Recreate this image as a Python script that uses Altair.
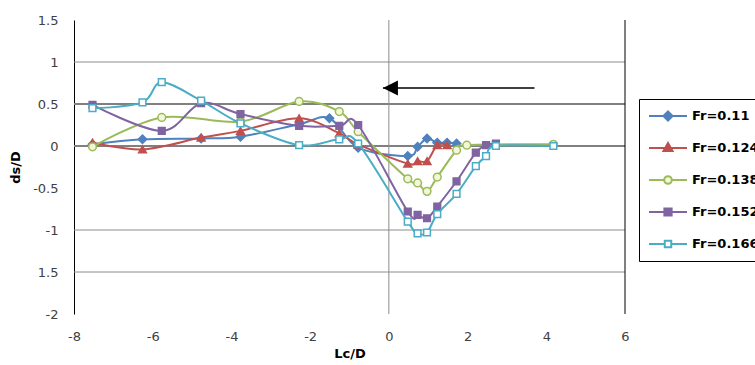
import altair as alt
import pandas as pd

# ---- series data -------------------------------------------------------
fr_labels = ["Fr=0.11", "Fr=0.124", "Fr=0.138", "Fr=0.152", "Fr=0.166"]

x_fr011 = [-7.53, -6.26, -4.77, -3.77, -2.28, -1.51, -0.78, 0.48, 0.73, 0.97, 1.23, 1.48, 1.72]
y_fr011 = [0.02, 0.08, 0.09, 0.11, 0.26, 0.33, -0.02, -0.12, -0.01, 0.09, 0.04, 0.04, 0.03]

x_fr0124 = [-7.53, -6.26, -4.77, -3.77, -2.28, -1.26, -0.78, 0.48, 0.73, 0.97, 1.23, 1.48]
y_fr0124 = [0.04, -0.04, 0.10, 0.18, 0.33, 0.15, 0.02, -0.21, -0.18, -0.18, 0.01, 0.01]

x_fr0138 = [-7.53, -5.77, -3.77, -2.28, -1.26, -0.78, 0.48, 0.73, 0.97, 1.23, 1.72, 1.98, 4.18]
y_fr0138 = [-0.01, 0.34, 0.29, 0.53, 0.41, 0.17, -0.39, -0.44, -0.54, -0.37, -0.05, 0.01, 0.02]

x_fr0152 = [-7.53, -5.77, -4.77, -3.77, -2.28, -1.26, -0.78, 0.48, 0.73, 0.97, 1.23, 1.72, 2.21, 2.47, 2.72]
y_fr0152 = [0.49, 0.18, 0.51, 0.38, 0.24, 0.24, 0.25, -0.78, -0.82, -0.86, -0.72, -0.42, -0.08, 0.01, 0.03]

x_fr0166 = [-7.53, -6.26, -5.77, -4.77, -3.77, -2.28, -1.26, -0.78, 0.48, 0.73, 0.97, 1.23, 1.72, 2.21, 2.47, 2.72, 4.18]
y_fr0166 = [0.45, 0.52, 0.76, 0.54, 0.27, 0.01, 0.08, 0.03, -0.90, -1.04, -1.03, -0.81, -0.57, -0.24, -0.12, 0.00, 0.00]

x_ticks = [-8, -6, -4, -2, 0, 2, 4, 6]
y_ticks = [1.5, 1, 0.5, 0, -0.5, -1, -1.5, -2]
grid_thick = [0.5, 0]
grid_thin = [1, -1, -1.5]

# flow-direction arrow: tail and tip along x, at a fixed height
arrow_x = [3.7, -0.15]
arrow_y = 0.69

# ---- styling -----------------------------------------------------------
colors = ["#4F81BD", "#C0504D", "#9BBB59", "#8064A2", "#4BACC6"]
fills = ["#4F81BD", "#C0504D", "#F4F6DA", "#8064A2", "#FFFFFF"]
shapes = ["diamond", "triangle-up", "circle", "square", "square"]
sizes = [70, 60, 60, 45, 45]

# legend symbols: a short line with the series marker in the middle
legend_paths = [
    "M-1,0H1M0,-0.24L0.24,0L0,0.24L-0.24,0Z",
    "M-1,0H1M0,-0.26L0.24,0.16L-0.24,0.16Z",
    "M-1,0H-0.2M0.2,0H1M0.2,0A0.2,0.2 0 1,1 -0.2,0A0.2,0.2 0 1,1 0.2,0Z",
    "M-1,0H1M-0.19,-0.19H0.19V0.19H-0.19Z",
    "M-1,0H-0.17M0.17,0H1M-0.17,-0.17H0.17V0.17H-0.17Z",
]

FONT = "DejaVu Sans"
W, H = 551, 294

rows = []
for label, xs, ys in zip(fr_labels,
                         [x_fr011, x_fr0124, x_fr0138, x_fr0152, x_fr0166],
                         [y_fr011, y_fr0124, y_fr0138, y_fr0152, y_fr0166]):
    for i, (a, b) in enumerate(zip(xs, ys)):
        rows.append({"series": label, "x": a, "y": b, "order": i})
df = pd.DataFrame(rows)

x_scale = alt.Scale(domain=[-8, 6], nice=False, zero=False)
y_scale = alt.Scale(domain=[-2, 1.5], nice=False, zero=False)

x_axis = alt.Axis(
    values=x_ticks, labelExpr="'' + datum.value", grid=False, domain=False,
    ticks=False, labelPadding=16, labelFlush=False, labelOverlap=False,
    labelFont=FONT, labelFontSize=13, labelColor="#404040",
    title="Lc/D", titleFont=FONT, titleFontSize=13, titleFontWeight="bold",
    titleColor="black", titlePadding=4,
)
y_axis = alt.Axis(
    values=y_ticks,
    labelExpr="datum.value == -1.5 ? '1.5' : '' + datum.value",
    grid=False, domain=True, domainColor="black", domainWidth=1,
    ticks=False, labelPadding=16, labelFlush=False, labelOverlap=False,
    labelFont=FONT, labelFontSize=13, labelColor="#404040",
    title="ds/D", titleFont=FONT, titleFontSize=13, titleFontWeight="bold",
    titleColor="black", titlePadding=10,
)


def X(field):
    return alt.X(field, scale=x_scale, axis=x_axis)


def Y(field):
    return alt.Y(field, scale=y_scale, axis=y_axis)


# horizontal grid lines
thin_grid = alt.Chart(pd.DataFrame({"g": grid_thin, "a": -8, "b": 6})).mark_rule(
    color="#8C8C8C", strokeWidth=1
).encode(y=Y("g:Q"), x=X("a:Q"), x2="b:Q")
thick_grid = alt.Chart(pd.DataFrame({"g": grid_thick, "a": -8, "b": 6})).mark_rule(
    color="#808080", strokeWidth=2
).encode(y=Y("g:Q"), x=X("a:Q"), x2="b:Q")

# vertical reference at x = 0 and the right frame line
zero_line = alt.Chart(pd.DataFrame({"v": [0], "lo": -2, "hi": 1.5})).mark_rule(
    color="#8C8C8C", strokeWidth=1
).encode(x=X("v:Q"), y=Y("lo:Q"), y2="hi:Q")
right_line = alt.Chart(pd.DataFrame({"v": [6], "lo": -2, "hi": 1.5})).mark_rule(
    color="black", strokeWidth=1
).encode(x=X("v:Q"), y=Y("lo:Q"), y2="hi:Q")

layers = [thin_grid, thick_grid, zero_line, right_line]

for i, label in enumerate(fr_labels):
    sub = alt.Chart(df).transform_filter(alt.datum.series == label)
    line = sub.mark_line(
        interpolate="cardinal", color=colors[i], strokeWidth=2
    ).encode(x=X("x:Q"), y=Y("y:Q"), order="order:Q")
    pts = sub.mark_point(
        shape=shapes[i], size=sizes[i], fill=fills[i], stroke=colors[i],
        strokeWidth=1.5, opacity=1, fillOpacity=1,
    ).encode(x=X("x:Q"), y=Y("y:Q"))
    layers += [line, pts]

# arrow
arrow_df = pd.DataFrame({"x": [arrow_x[0]], "x2": [arrow_x[1]], "y": [arrow_y]})
arrow_line = alt.Chart(arrow_df).mark_rule(color="#404040", strokeWidth=2).encode(
    x=X("x:Q"), x2="x2:Q", y=Y("y:Q"),
)
arrow_head = alt.Chart(arrow_df).mark_point(
    shape="M-1,0L1,-1L1,1Z", size=225, filled=True, color="black",
    opacity=1, xOffset=7.5,
).encode(x=X("x2:Q"), y=Y("y:Q"))
layers += [arrow_line, arrow_head]

# legend, carried by an off-canvas layer
legend = alt.Legend(
    title=None, orient="none", legendX=565, legendY=79,
    clipHeight=20, rowPadding=12, padding=7, symbolOffset=2,
    symbolSize=1444, symbolStrokeWidth=2, labelOffset=4,
    labelFont=FONT, labelFontSize=13, labelFontWeight="bold",
    labelColor="black", strokeColor="black", fillColor="white",
    labelLimit=300,
)
legend_layer = alt.Chart(pd.DataFrame({"series": fr_labels})).mark_point(
    size=1444, strokeWidth=2, opacity=1
).encode(
    x=alt.value(-3000), y=alt.value(-3000),
    stroke=alt.Stroke("series:N", scale=alt.Scale(domain=fr_labels, range=colors), legend=legend),
    fill=alt.Fill("series:N", scale=alt.Scale(domain=fr_labels, range=fills), legend=legend),
    shape=alt.Shape("series:N", scale=alt.Scale(domain=fr_labels, range=legend_paths), legend=legend),
)
layers.append(legend_layer)

chart = alt.layer(*layers).properties(
    width=W, height=H,
    autosize=alt.AutoSizeParams(type="none"),
    padding={"left": 74, "top": 20, "right": 130, "bottom": 51},
    background="white",
).configure_view(stroke=None)

chart.save("out.html", embed_options={"renderer": "svg", "actions": False})
